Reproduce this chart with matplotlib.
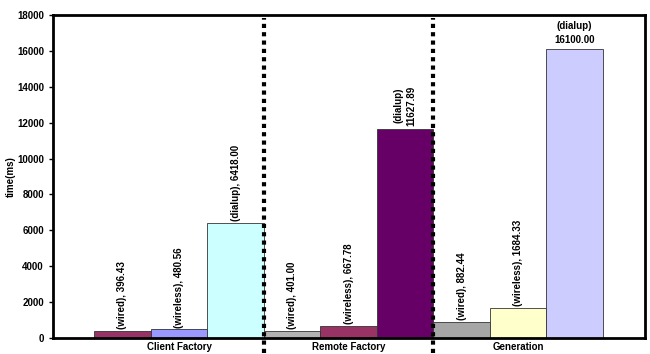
import numpy as np
import matplotlib.pyplot as plt

# datos
grupos = ["Client Factory", "Remote Factory", "Generation"]
conexiones = ["wired", "wireless", "dialup"]
valores = [[396.43, 480.56, 6418.00],
           [401.00, 667.78, 11627.89],
           [882.44, 1684.33, 16100.00]]
colores = [["#993366", "#9999FF", "#CCFFFF"],
           ["#B2B2B2", "#993366", "#660066"],
           ["#A6A6A6", "#FFFFCC", "#CCCCFF"]]

plt.rcParams['font.family'] = ['Liberation Sans', 'DejaVu Sans']

fig = plt.figure(figsize=(6.5, 3.54), dpi=100)
ax = fig.add_axes([0.0815, 0.0452, 0.9108, 0.9124])

w = 1.0/3
for i in range(len(grupos)):
    for j in range(len(conexiones)):
        x = i + (j-1)*w
        v = valores[i][j]
        ax.bar(x, v, width=w, color=colores[i][j], edgecolor="#333333", linewidth=0.6, zorder=2)
        if i == 2 and j == 2:
            ax.text(x, v + 250, "(%s)\n%.2f" % (conexiones[j], v), ha="center", va="bottom",
                    fontsize=7, fontweight="bold", linespacing=1.5)
        elif i == 1 and j == 2:
            ax.text(x, v + 200, "(%s)\n%.2f" % (conexiones[j], v), ha="center", va="bottom",
                    rotation=90, fontsize=7, fontweight="bold", linespacing=1.3)
        else:
            ax.text(x, v + 100, "(%s), %.2f" % (conexiones[j], v), ha="center", va="bottom",
                    rotation=90, fontsize=7, fontweight="bold")

# separadores punteados
for xs in [0.5, 1.5]:
    ax.axvline(xs, ymin=-0.045, ymax=0.99, color="black", linestyle=(0, (1, 1)),
               linewidth=3, clip_on=False, zorder=3)

ax.set_xlim(-0.743, 2.748)
ax.set_ylim(0, 18000)
ax.set_yticks(np.arange(0, 18001, 2000))
ax.set_xticks(range(len(grupos)))
ax.set_xticklabels(grupos, fontsize=7, fontweight="bold")
ax.tick_params(axis="x", length=0, pad=3)
ax.tick_params(axis="y", labelsize=7, length=3, width=1)
for lbl in ax.get_yticklabels():
    lbl.set_fontweight("bold")
ax.set_ylabel("time(ms)", fontsize=7, fontweight="bold", labelpad=1)
for s in ax.spines.values():
    s.set_linewidth(2)

plt.savefig("out.png", dpi=100)
